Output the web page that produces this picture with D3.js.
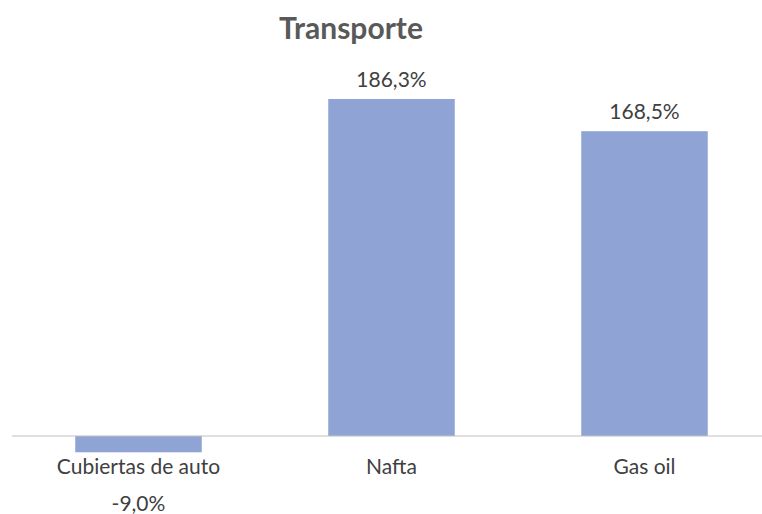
<!DOCTYPE html>
<html>
<head>
<meta charset="utf-8">
<script src="https://cdn.jsdelivr.net/npm/d3@7"></script>
<style>
  body { margin: 0; background: #fff; }
  text { font-family: Lato, "Open Sans", sans-serif; }
</style>
</head>
<body>
<div id="chart"></div>
<script>
const width = 762;
const height = 514;

const categories = ["Cubiertas de auto", "Nafta", "Gas oil"];
const values = [-9.0, 186.3, 168.5];
const title = "Transporte";

const svg = d3.select("#chart")
    .append("svg")
    .attr("width", width)
    .attr("height", height);

const x = d3.scaleBand()
    .domain(categories)
    .range([12, 771])
    .paddingInner(0.5)
    .paddingOuter(0.25);

const y = d3.scaleLinear()
    .domain([0, 186.3])
    .range([436, 99]);

const fmt = v => d3.format(".1f")(v).replace(".", ",").replace("−", "-") + "%";

svg.append("text")
    .attr("x", 351)
    .attr("y", 39)
    .attr("text-anchor", "middle")
    .attr("font-size", 30)
    .attr("font-weight", "bold")
    .attr("fill", "#595959")
    .text(title);

const data = categories.map((c, i) => ({ cat: c, value: values[i] }));

svg.selectAll("rect.bar")
    .data(data)
    .enter()
    .append("rect")
    .attr("class", "bar")
    .attr("x", d => x(d.cat))
    .attr("width", x.bandwidth())
    .attr("y", d => y(Math.max(0, d.value)))
    .attr("height", d => Math.abs(y(d.value) - y(0)))
    .attr("fill", "#8FA4D5");

svg.append("line")
    .attr("x1", 12)
    .attr("x2", width)
    .attr("y1", y(0))
    .attr("y2", y(0))
    .attr("stroke", "#BFBFBF")
    .attr("stroke-width", 1);

// category labels
svg.selectAll("text.cat")
    .data(data)
    .enter()
    .append("text")
    .attr("class", "cat")
    .attr("x", d => x(d.cat) + x.bandwidth() / 2)
    .attr("y", 474)
    .attr("text-anchor", "middle")
    .attr("font-size", 21)
    .attr("fill", "#404040")
    .text(d => d.cat);

// value labels
svg.selectAll("text.val")
    .data(data)
    .enter()
    .append("text")
    .attr("class", "val")
    .attr("x", d => x(d.cat) + x.bandwidth() / 2)
    .attr("y", d => d.value >= 0 ? y(d.value) - 12 : 511)
    .attr("text-anchor", "middle")
    .attr("font-size", 21)
    .attr("fill", "#404040")
    .text(d => fmt(d.value));
</script>
</body>
</html>
